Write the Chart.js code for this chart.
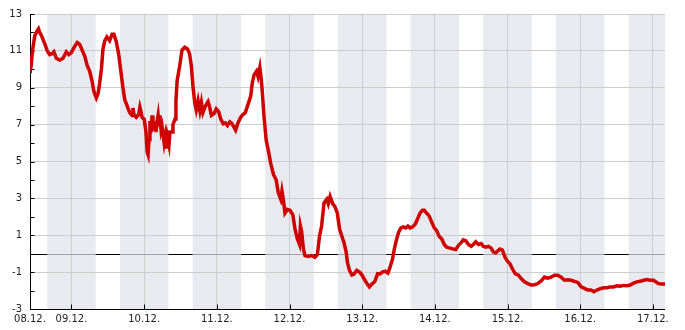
<!DOCTYPE html>
<html><head><meta charset="utf-8">
<script src="https://cdn.jsdelivr.net/npm/chart.js@4/dist/chart.umd.min.js"></script>
<style>html,body{margin:0;padding:0;background:#fff;}#wrap{width:685px;height:330px;}</style>
</head><body><div id="wrap"><canvas id="c" width="685" height="330"></canvas></div>
<script>
// hours since 08.12. 00:00
const hours = [
10.3,10.7,11.0,11.3,11.85,12.7,13.1,13.5,14.3,15.15,
16.0,16.8,17.6,18.2,19.0,20.1,21.2,22.3,23.1,23.9,
25.1,25.9,26.7,27.5,28.4,29.2,30.0,30.8,31.4,32.2,
32.8,33.3,33.9,34.4,35.0,35.7,36.6,37.4,38.0,38.8,
39.6,40.3,41.0,41.6,42.4,43.2,44.0,44.3,44.6,45.4,
46.2,46.6,46.9,47.3,48.0,48.6,49.0,49.3,49.6,49.9,
50.3,50.6,50.9,51.6,51.9,52.3,52.6,52.9,53.2,53.6,
53.9,54.6,54.9,55.2,55.6,56.2,56.5,57.2,57.5,58.2,
58.5,58.9,59.7,60.5,61.4,62.3,63.0,63.6,64.1,64.7,
65.2,65.8,66.4,66.9,67.4,68.2,69.1,69.7,70.2,71.1,
71.8,72.6,73.3,74.1,74.8,75.5,76.3,77.0,77.7,78.2,
79.0,79.9,80.6,81.4,82.3,83.2,83.7,84.3,85.1,85.6,
86.2,86.7,87.0,87.6,88.3,89.0,89.8,90.7,91.6,92.3,
93.1,93.5,94.0,94.5,95.3,96.2,97.1,97.8,98.6,99.3,
99.6,100.0,100.6,101.1,102.2,103.3,104.4,105.2,105.9,106.6,
107.4,108.3,108.8,109.4,110.3,111.0,111.8,112.5,113.3,114.0,
114.7,115.1,115.8,116.6,117.3,118.2,119.1,119.9,120.6,121.5,
122.4,123.2,123.9,124.2,125.1,125.9,126.7,127.6,128.5,129.2,
130.0,130.6,131.4,132.0,132.8,133.6,134.4,135.1,135.8,136.6,
137.5,138.2,139.1,139.9,140.5,141.3,142.1,143.0,143.8,144.6,
145.4,146.3,147.1,147.9,149.0,150.1,150.9,151.8,152.7,153.4,
154.2,155.1,156.0,156.7,157.5,158.4,159.3,160.0,160.8,161.7,
162.6,163.3,164.1,164.8,165.5,166.3,167.2,168.1,168.8,169.6,
170.5,171.6,172.5,173.6,174.7,175.8,176.9,178.0,179.1,180.2,
181.3,182.4,183.5,184.6,185.7,186.8,187.9,189.0,190.1,191.2,
192.3,193.4,194.5,195.6,196.5,197.5,198.6,199.7,200.8,201.9,
203.0,204.1,205.2,206.3,207.4,208.5,209.6,210.7,211.8,212.9,
214.0,215.1,216.2,217.0,217.8,218.9,220.0
];
const temps = [
9.85,10.2,10.8,11.2,11.8,12.1,12.2,12.0,11.75,11.4,
11.0,10.8,10.85,10.95,10.6,10.5,10.6,10.95,10.8,10.9,
11.25,11.45,11.35,11.05,10.7,10.2,9.9,9.35,8.8,8.45,
8.7,9.25,10.05,11.1,11.55,11.75,11.55,11.9,11.9,11.5,
10.8,9.9,9.0,8.35,8.0,7.65,7.5,7.9,7.55,7.4,
7.55,7.95,7.75,7.4,7.3,6.6,5.5,5.35,6.2,7.2,
6.6,7.5,6.8,7.0,6.6,7.2,7.5,6.9,7.5,6.7,
6.9,6.0,6.3,5.7,6.4,5.9,6.6,6.6,7.0,7.3,
8.3,9.4,10.15,11.05,11.2,11.1,10.85,10.15,9.1,8.2,
7.8,8.3,7.75,8.2,7.65,8.0,8.25,7.9,7.5,7.6,
7.85,7.7,7.3,7.05,7.1,6.95,7.15,7.05,6.85,6.7,
7.1,7.4,7.55,7.65,8.1,8.55,9.25,9.7,9.9,9.6,
10.1,9.4,8.8,7.4,6.15,5.6,4.9,4.3,4.0,3.3,
2.95,3.4,2.9,2.2,2.4,2.35,2.1,1.35,0.8,0.5,
1.5,1.2,0.25,-0.1,-0.15,-0.1,-0.2,-0.05,0.95,1.5,
2.75,2.95,2.7,3.1,2.7,2.55,2.2,1.35,0.95,0.6,
0.1,-0.45,-0.9,-1.15,-1.1,-0.9,-1.0,-1.15,-1.35,-1.6,
-1.8,-1.65,-1.55,-1.5,-1.08,-1.1,-1.0,-0.95,-1.05,-0.73,
-0.3,0.25,0.8,1.15,1.4,1.45,1.4,1.5,1.4,1.45,
1.6,1.85,2.2,2.35,2.35,2.2,2.05,1.7,1.4,1.25,
0.95,0.8,0.5,0.35,0.3,0.25,0.22,0.45,0.6,0.75,
0.7,0.5,0.4,0.5,0.65,0.5,0.55,0.4,0.35,0.4,
0.3,0.1,0.05,0.15,0.25,0.2,-0.2,-0.43,-0.55,-0.82,
-1.08,-1.17,-1.35,-1.53,-1.62,-1.7,-1.68,-1.62,-1.48,-1.27,
-1.33,-1.27,-1.17,-1.17,-1.27,-1.44,-1.42,-1.44,-1.5,-1.56,
-1.8,-1.88,-1.97,-1.97,-2.06,-1.97,-1.9,-1.85,-1.85,-1.8,
-1.8,-1.74,-1.76,-1.72,-1.74,-1.7,-1.6,-1.53,-1.5,-1.44,
-1.4,-1.44,-1.44,-1.53,-1.62,-1.65,-1.65
];
const dayLabels = ['08.12.','09.12.','10.12.','11.12.','12.12.','13.12.','14.12.','15.12.','16.12.','17.12.'];
const dayTicks = [10.3,24,48,72,96,120,144,168,192,216];
const xMin = 10.3, xMax = 220;
const yMin = -3, yMax = 13;
const nightStart = 16, nightEnd = 8;

function nightBands(x){
  const out=[];
  for(let d=-1; d<12; d++){
    const s=Math.max(x.min,d*24+nightStart), e=Math.min(x.max,(d+1)*24+nightEnd);
    if(e>s) out.push([x.getPixelForValue(s), x.getPixelForValue(e)]);
  }
  return out;
}
const bgPlugin = {
  id:'bg',
  beforeDraw(chart){
    const {ctx, chartArea:a, scales:{x}} = chart;
    ctx.save();
    ctx.fillStyle='#e9eaf0';
    nightBands(x).forEach(([p1,p2])=>ctx.fillRect(p1,a.top,p2-p1,a.bottom-a.top));
    ctx.restore();
  }
};
const axesPlugin = {
  id:'axes',
  beforeDatasetsDraw(chart){
    const {ctx, chartArea:a, scales:{x,y}} = chart;
    ctx.save();
    ctx.lineWidth=1;
    const seg=(x1,y1,x2,y2)=>{ctx.beginPath();ctx.moveTo(x1,y1);ctx.lineTo(x2,y2);ctx.stroke();};
    const y0=Math.round(y.getPixelForValue(0))+0.5;
    ctx.strokeStyle='#000';
    seg(a.left,y0,a.right,y0);
    ctx.strokeStyle='#a0a1a8';
    nightBands(x).forEach(([p1,p2])=>seg(p1,y0,p2,y0));
    ctx.strokeStyle='#000';
    const L=Math.round(a.left)+0.5, B=Math.round(a.bottom)+0.5;
    seg(L,a.top,L,B);
    seg(a.left,B,a.right,B);
    for(let v=yMin; v<=yMax; v++){
      const py=Math.round(y.getPixelForValue(v))+0.5;
      seg(L,py,L+4,py);
    }
    for(let i=1;i<dayTicks.length;i++){
      const px=Math.round(x.getPixelForValue(dayTicks[i]))+0.5;
      seg(px,B,px,B-5);
    }
    ctx.restore();
  }
};

new Chart(document.getElementById('c'), {
  type:'line',
  data:{datasets:[{
    data: hours.map((h,i)=>({x:h,y:temps[i]})),
    borderColor:'#d00000',
    borderWidth:3.5,
    tension:0,
    pointRadius:(c)=>c.dataIndex===0?2:0,
    pointBackgroundColor:'#333',
    pointBorderWidth:0,
    fill:false
  }]},
  options:{
    responsive:false,
    devicePixelRatio:1,
    animation:false,
    layout:{padding:{top:10,right:20,left:0,bottom:0}},
    plugins:{legend:{display:false},tooltip:{enabled:false}},
    scales:{
      x:{
        type:'linear', min:xMin, max:xMax,
        afterBuildTicks:(s)=>{s.ticks=dayTicks.map(v=>({value:v}));},
        afterFit:(s)=>{s.height=21;},
        ticks:{autoSkip:false,maxRotation:0,minRotation:0,padding:4,color:'#222',
          font:{family:'DejaVu Sans',size:10},
          callback:(v,i)=>dayLabels[i]},
        grid:{color:'#cccccc',drawTicks:false},
        border:{display:false}
      },
      y:{
        min:yMin, max:yMax,
        afterFit:(s)=>{s.width=30;},
        ticks:{stepSize:1,padding:8,color:'#222',
          font:{family:'DejaVu Sans',size:10},
          callback:(v)=>(Math.abs(v%2)===1?String(v):'')},
        grid:{color:(c)=>(Math.abs(c.tick.value%2)===1?'#cccccc':'rgba(0,0,0,0)'),drawTicks:false},
        border:{display:false}
      }
    }
  },
  plugins:[bgPlugin,axesPlugin]
});
</script>
</body></html>
